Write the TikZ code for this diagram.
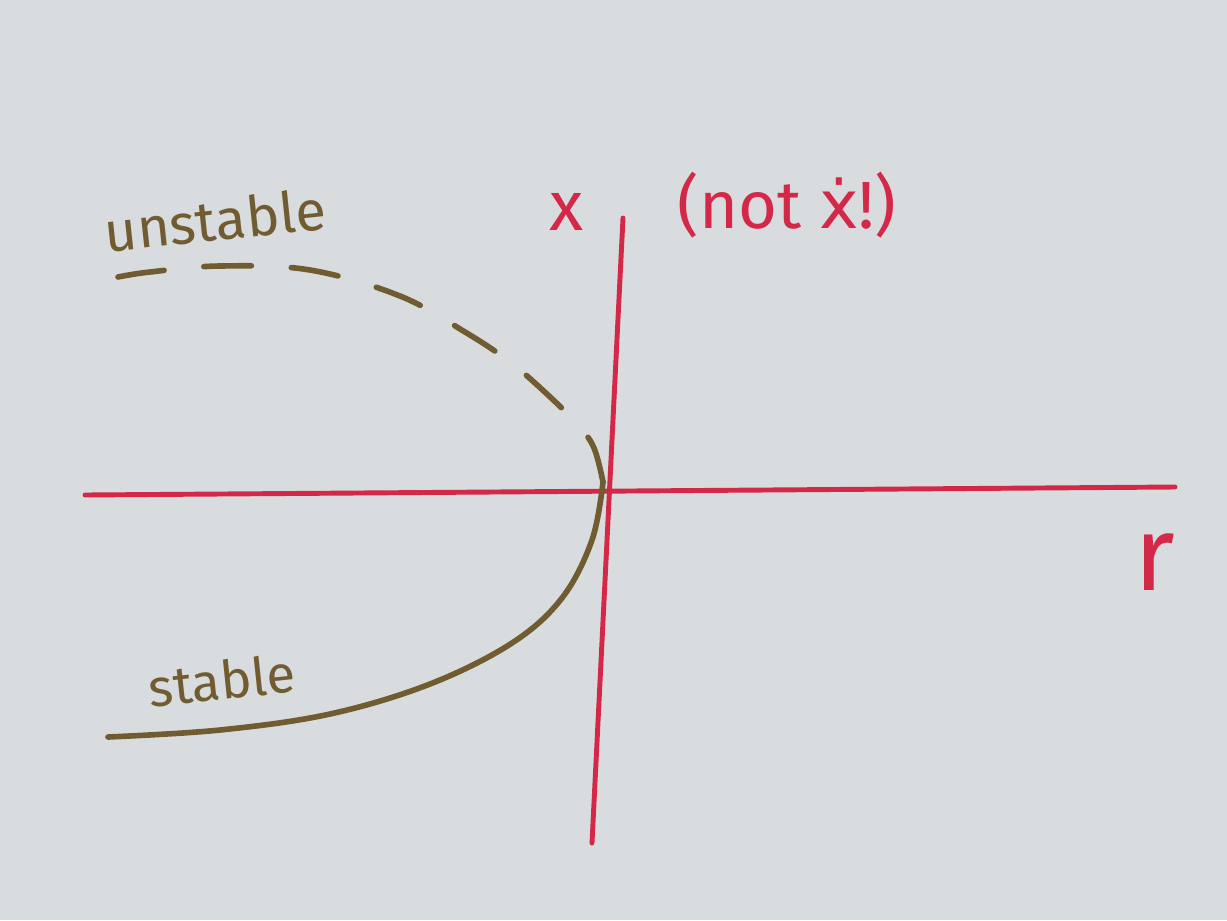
\documentclass[tikz,border=0pt]{standalone}
\usepackage{fontspec}
\setmainfont{Fira Sans}
\newfontfamily\dotfont{DejaVu Sans}
\usetikzlibrary{positioning}

\definecolor{paper}{RGB}{217,220,222}
\definecolor{axisred}{RGB}{212,40,72}
\definecolor{branch}{RGB}{112,92,48}

\tikzset{
  axisline/.style={axisred, line width=2.8pt, line cap=round},
  branchline/.style={branch, line width=3.2pt, line cap=round},
  redlabel/.style={axisred, inner sep=0pt},
  branchlabel/.style={branch, inner sep=0pt},
}

\begin{document}
\begin{tikzpicture}[x=0.02cm, y=-0.02cm]
  \fill[paper] (0,0) rectangle (1227,920);
  \useasboundingbox (0,0) rectangle (1227,920);
  % axes
  \coordinate (rleft) at (85,495);
  \coordinate (rright) at (1175,487);
  \coordinate (xtop) at (623,218);
  \coordinate (xbot) at (592,843);
  \draw[axisline] (rleft) -- (rright);
  \draw[axisline] (xtop) -- (xbot);
  % branches
  \draw[branchline] plot[smooth, tension=0.6] coordinates
    {(603,482) (592,540) (562,598) (512,643) (430,684) (330,714) (220,730) (108,737)};
  \draw[branchline, dash pattern=on 0.95cm off 0.8cm] plot[smooth, tension=0.6] coordinates
    {(603,482) (594,448) (578,425) (548,395) (510,362) (465,332) (400,296) (310,270) (220,266) (150,272) (118,277)};
  % labels
  \node[redlabel, font=\fontsize{40}{42}\selectfont] (xlab) at (567,212) {x};
  \node[redlabel, font=\fontsize{38}{40}\selectfont] (notlab) at (787,205) {(not {\dotfont ẋ}!)};
  \node[redlabel, font=\fontsize{60}{62}\selectfont] (rlab) at (1155,562) {r};
  \node[branchlabel, rotate=6, font=\fontsize{32}{34}\selectfont] (unstab) at (215,220) {unstable};
  \node[branchlabel, rotate=6, font=\fontsize{30}{32}\selectfont] (stab) at (222,680) {stable};
\end{tikzpicture}
\end{document}
